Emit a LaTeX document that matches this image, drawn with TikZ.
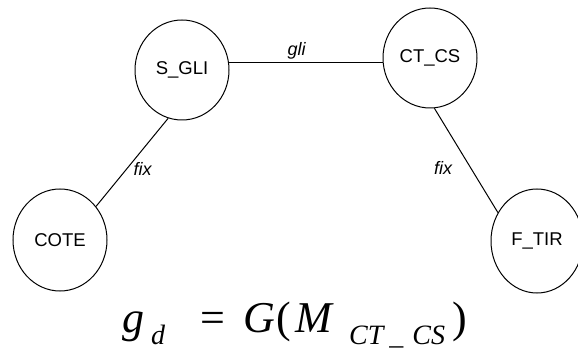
\documentclass[tikz,border=0pt]{standalone}
\usepackage{fontspec}
\setmainfont{Liberation Sans}
\newfontfamily\tms{Liberation Serif}
\usetikzlibrary{shapes.geometric}
\newcommand{\sbs}[1]{\raisebox{-12pt}{\fontsize{28}{30}\selectfont\textit{#1}}}
\tikzset{
  state/.style={draw, ellipse, line width=1pt, inner sep=0pt, minimum width=94pt, minimum height=100pt, font=\fontsize{18.5}{20}\selectfont},
  edge/.style={line width=1pt},
  elabel/.style={font=\fontsize{18}{20}\selectfont\itshape, inner sep=3pt},
  formula/.style={font=\fontsize{44}{48}\selectfont\tms, inner sep=0pt}
}
\begin{document}
\begin{tikzpicture}[x=1pt,y=-1pt]
\useasboundingbox (0,0) rectangle (578,358);
\node[state] (sgli) at (182,70) {S\_GLI};
\node[state] (ctcs) at (430,58) {CT\_CS};
\node[state, minimum height=102pt] (cote) at (60,240) {COTE};
\node[state, minimum width=92pt, minimum height=104pt] (ftir) at (537,241) {F\_TIR};
\draw[edge] (sgli.9) -- node[elabel, pos=0.44, above=0pt] {gli} (sgli.9 -| ctcs.west);
\draw[edge] (sgli.254) -- node[elabel, pos=0.57, right=3pt] {fix} (cote.43);
\draw[edge] (ctcs.275) -- node[elabel, pos=0.571, left=15pt] {fix} (ftir.144);
\node[formula, anchor=base west] (eq) at (122,332) {\textit{g}\hspace{7pt}\sbs{d}\hspace{35pt}=\hspace{18pt}\textit{G}\hspace{2pt}(\hspace{4pt}\textit{M}\hspace{15pt}\sbs{CT\hspace{6pt}\_\hspace{9pt}CS}\hspace{7pt})};
\end{tikzpicture}
\end{document}
